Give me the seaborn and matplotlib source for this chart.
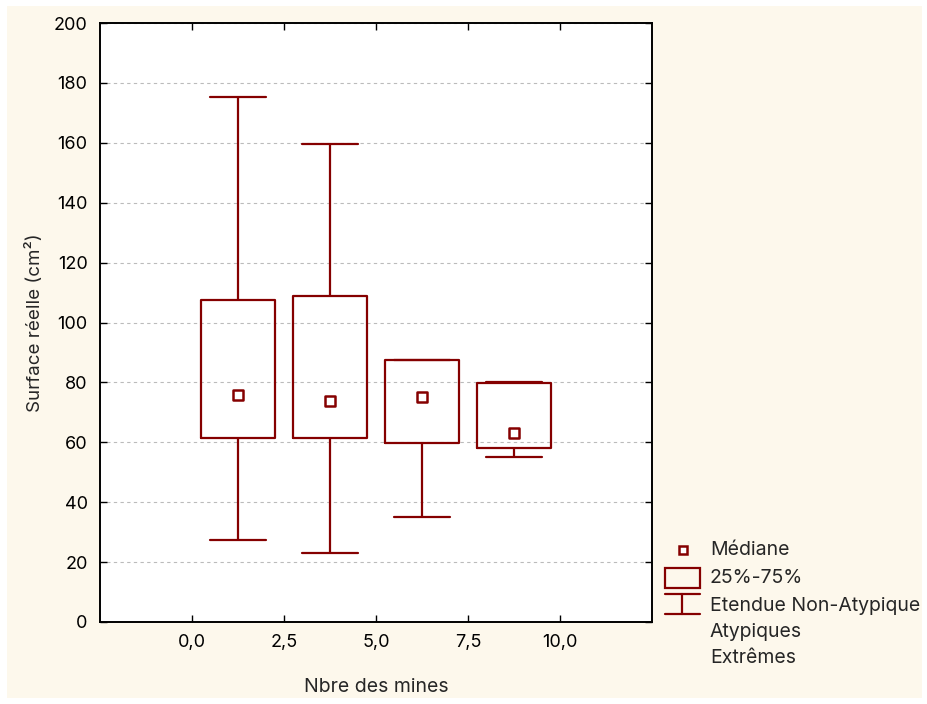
import numpy as np
import pandas as pd
import seaborn as sns
import matplotlib.pyplot as plt
from matplotlib.patches import Rectangle
from matplotlib.lines import Line2D

# values: lower whisker, Q1, median, Q3, upper whisker
positions = [1.25, 3.75, 6.25, 8.75]
box1 = [27.4, 61.4, 75.8, 107.5, 175.3]
box2 = [23.0, 61.4, 73.8, 108.8, 159.6]
box3 = [35.0, 59.8, 75.1, 87.5, 87.5]
box4 = [55.1, 58.1, 63.1, 79.8, 80.0]
xticks = [0, 2.5, 5, 7.5, 10]
xticklabels = ["0,0", "2,5", "5,0", "7,5", "10,0"]
yticks = list(range(0, 201, 20))
legend_labels = ["Médiane", "25%-75%", "Etendue Non-Atypique", "Atypiques", "Extrêmes"]

RED = "#850000"
CREAM = "#FDF8EC"

rows = []
for p, vals in zip(positions, [box1, box2, box3, box4]):
    for v in vals:
        rows.append({"mines": p, "surface": v})
df = pd.DataFrame(rows)
medians = df.groupby("mines")["surface"].median().reset_index()

sns.set_style("ticks")
plt.rcParams['font.family'] = ['Inter', 'DejaVu Sans']
plt.rcParams['font.size'] = 12

fig = plt.figure(figsize=(9.28, 7.04), dpi=100)
fig.patch.set_facecolor("white")
fig.patches.append(Rectangle((0.008, 0.009), 0.986, 0.982, transform=fig.transFigure,
                             facecolor=CREAM, edgecolor="none", zorder=-10))
ax = fig.add_axes([0.1078, 0.1165, 0.5948, 0.8508])
ax.set_facecolor("white")

sns.boxplot(data=df, x="mines", y="surface", native_scale=True, width=0.8,
            whis=np.inf, fill=False, color=RED, linewidth=1.6,
            showfliers=False, medianprops={"visible": False},
            capwidths=1.5, ax=ax)
sns.scatterplot(data=medians, x="mines", y="surface", marker="s", s=45,
                facecolor="white", edgecolor=RED, linewidth=1.8, zorder=5, ax=ax)

ax.set_xlim(-2.5, 12.5)
ax.set_ylim(0, 200)
ax.set_xticks(xticks)
ax.set_xticklabels(xticklabels)
ax.set_yticks(yticks)
ax.yaxis.grid(True, linestyle=(0, (3, 3)), color="#bbbbbb", linewidth=0.8)
ax.set_axisbelow(True)
ax.tick_params(direction="in", top=True, right=True, length=5, width=1,
               labelsize=13, colors="black")
ax.tick_params(axis="y", pad=9)
ax.tick_params(axis="x", pad=9)
for s in ax.spines.values():
    s.set_visible(True)
    s.set_linewidth(1.4)
    s.set_color("black")
ax.set_xlabel("Nbre des mines", fontsize=14, labelpad=19)
ax.set_ylabel("Surface réelle (cm²)", fontsize=13.5, labelpad=7)

# legend drawn at the right, outside the plot
W, H = 928, 704
def fx(px):
    return px / W
def fy(py):
    return 1 - py / H

fig.add_artist(Line2D([fx(683)], [fy(550)], marker="s", markersize=6,
                      markerfacecolor="white", markeredgecolor=RED,
                      markeredgewidth=1.8, linestyle="none"))
fig.add_artist(Rectangle((fx(665), fy(588)), fx(700) - fx(665), fy(568) - fy(588),
                         transform=fig.transFigure, facecolor="none",
                         edgecolor=RED, linewidth=1.6))
fig.add_artist(Line2D([fx(665), fx(700)], [fy(594), fy(594)], color=RED, linewidth=1.6))
fig.add_artist(Line2D([fx(665), fx(700)], [fy(614), fy(614)], color=RED, linewidth=1.6))
fig.add_artist(Line2D([fx(682.5), fx(682.5)], [fy(594), fy(614)], color=RED, linewidth=1.6))
for lab, py in zip(legend_labels, [550, 578, 606, 632, 658]):
    fig.text(fx(710), fy(py), lab, fontsize=14, va="center", ha="left")

fig.savefig("out.png", dpi=100, facecolor=fig.get_facecolor())
